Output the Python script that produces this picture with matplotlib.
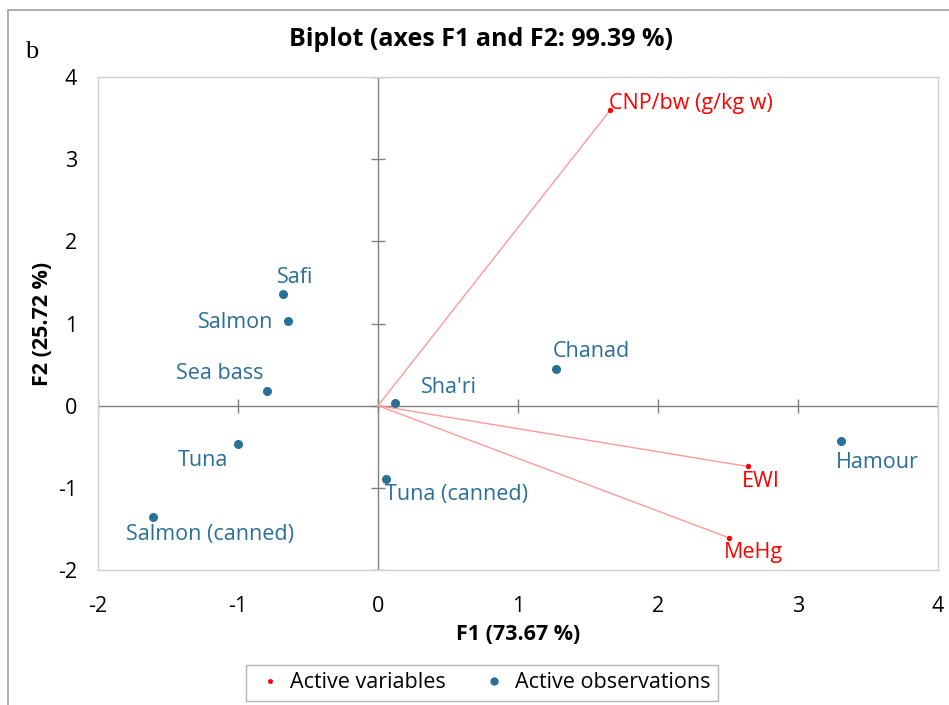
import numpy as np
import matplotlib.pyplot as plt
from matplotlib.patches import Rectangle
from matplotlib.lines import Line2D

plt.rcParams['font.family'] = ['Open Sans', 'DejaVu Sans']
plt.rcParams['axes.unicode_minus'] = False

# active variables (loadings)
var_names = ['CNP/bw (g/kg w)', 'EWI', 'MeHg']
var_x = [1.66, 2.64, 2.51]
var_y = [3.60, -0.74, -1.61]

# active observations
obs_names = ['Safi', 'Salmon', 'Sea bass', 'Tuna', 'Salmon (canned)',
             'Tuna (canned)', "Sha'ri", 'Chanad', 'Hamour']
obs_x = [-0.68, -0.64, -0.79, -1.00, -1.61, 0.06, 0.12, 1.27, 3.31]
obs_y = [1.36, 1.03, 0.18, -0.47, -1.35, -0.89, 0.03, 0.45, -0.43]

# label placement (offset in points, alignment)
obs_lbl = {
    'Safi': ((9, 4), 'center', 'bottom'),
    'Salmon': ((-11, -1), 'right', 'center'),
    'Sea bass': ((-3, 5), 'right', 'bottom'),
    'Tuna': ((-7, -4), 'right', 'top'),
    'Salmon (canned)': ((-19, -5.5), 'left', 'top'),
    'Tuna (canned)': ((-1, -3.5), 'left', 'top'),
    "Sha'ri": ((19, 4), 'left', 'bottom'),
    'Chanad': ((-2, 5), 'left', 'bottom'),
    'Hamour': ((-4, -8), 'left', 'top'),
}
var_lbl = {
    'CNP/bw (g/kg w)': ((-1, -3), 'left', 'bottom'),
    'EWI': ((-4, -3), 'left', 'top'),
    'MeHg': ((-4, -3), 'left', 'top'),
}

xticks = [-2, -1, 0, 1, 2, 3, 4]
yticks = [-2, -1, 0, 1, 2, 3, 4]

blue = '#2a6f97'
red = '#ff0000'
fs = 15.5

fig = plt.figure(figsize=(9.49, 7.05), dpi=100)
ax = fig.add_axes([98 / 949, 1 - 570 / 705, 840 / 949, 493 / 705])

ax.set_xlim(-2, 4)
ax.set_ylim(-2, 4)
ax.set_xticks(xticks)
ax.set_yticks(yticks)
ax.tick_params(length=0, labelsize=fs)
ax.tick_params(axis='x', pad=19)
ax.tick_params(axis='y', pad=15)
for s in ax.spines.values():
    s.set_color('#d0d0d0')
    s.set_linewidth(1)

# zero axes with tick marks
ax.axhline(0, color='#808080', lw=1, zorder=1)
ax.axvline(0, color='#808080', lw=1, zorder=1)
ax.plot(xticks, np.zeros(len(xticks)), ls='none', marker='|', ms=10, color='#808080', mew=1, zorder=1)
ax.plot(np.zeros(len(yticks)), yticks, ls='none', marker='_', ms=10, color='#808080', mew=1, zorder=1)

# variable vectors
for x, y in zip(var_x, var_y):
    ax.plot([0, x], [0, y], color='#ff9a9a', lw=1, zorder=2)
ax.scatter(var_x, var_y, s=8, color=red, zorder=3)
for n, x, y in zip(var_names, var_x, var_y):
    off, ha, va = var_lbl[n]
    ax.annotate(n, (x, y), xytext=off, textcoords='offset points',
                ha=ha, va=va, color=red, fontsize=fs)

# observations
ax.scatter(obs_x, obs_y, s=30, color=blue, zorder=3)
for n, x, y in zip(obs_names, obs_x, obs_y):
    off, ha, va = obs_lbl[n]
    ax.annotate(n, (x, y), xytext=off, textcoords='offset points',
                ha=ha, va=va, color=blue, fontsize=fs)

ax.set_xlabel('F1 (73.67 %)', fontsize=fs, fontweight='bold')
ax.set_ylabel('F2 (25.72 %)', fontsize=fs, fontweight='bold')
ax.xaxis.set_label_coords(0.5, (570 - 624) / 493)
ax.yaxis.set_label_coords((53 - 98) / 840, 0.5)

fig.text(0.507, 1 - 40 / 705, 'Biplot (axes F1 and F2: 99.39 %)', ha='center', va='center',
         fontsize=18, fontweight='bold')
fig.text(32 / 949, 1 - 52 / 705, 'b', family='Liberation Serif', fontsize=19, ha='center', va='center')

# outer border of the panel
fig.patches.append(Rectangle((8 / 949, -0.1), 1.2, 1.1 - 10 / 705, transform=fig.transFigure,
                             fill=False, edgecolor='#a0a0a0', lw=1.2))

handles = [Line2D([], [], ls='none', marker='o', ms=2.5, color=red),
           Line2D([], [], ls='none', marker='o', ms=5, color=blue)]
leg = fig.legend(handles, ['Active variables', 'Active observations'], loc='center',
                 bbox_to_anchor=(482 / 949, 1 - 683 / 705), ncol=2, fontsize=fs,
                 frameon=True, fancybox=False, edgecolor='#a0a0a0', handletextpad=0.2,
                 columnspacing=1.5, borderpad=0.35, handlelength=1.5)
leg.get_frame().set_linewidth(1)

fig.savefig('out.png', dpi=100)
